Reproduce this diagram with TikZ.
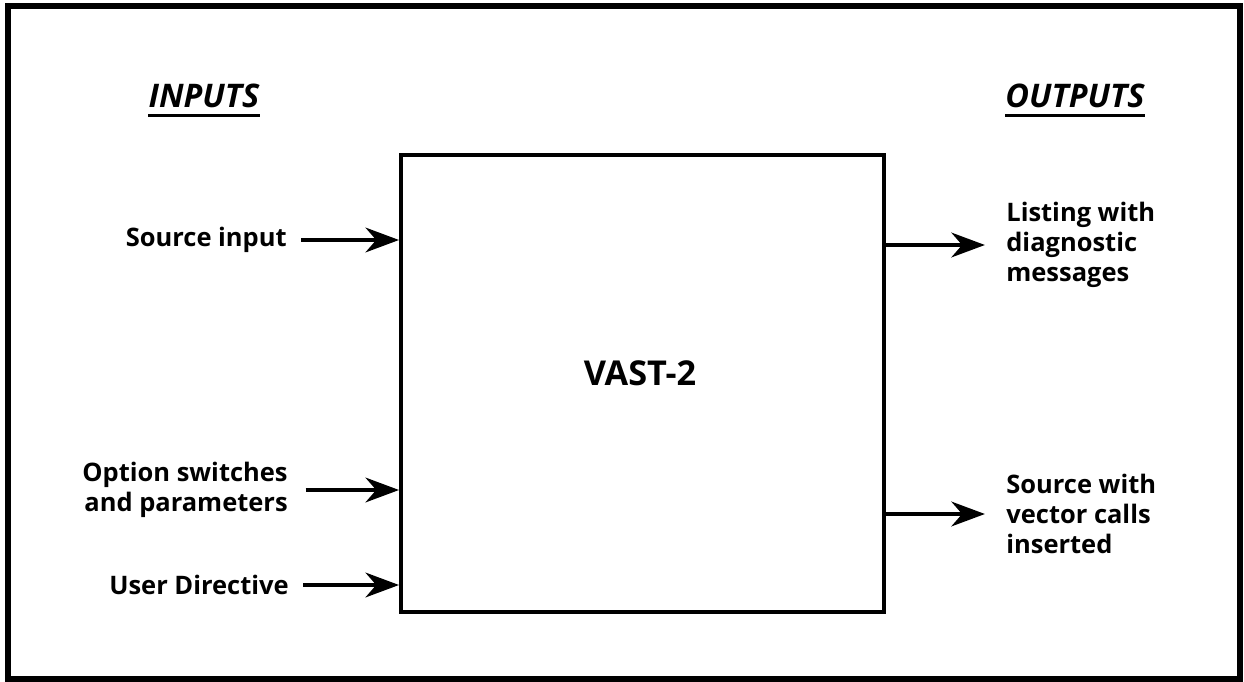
\documentclass[tikz,border=0pt]{standalone}
\usepackage{fontspec}
\setmainfont{Open Sans}
\usetikzlibrary{arrows.meta}
\tikzset{
  lbl/.style={font=\bfseries\fontsize{14.5}{17}\selectfont, inner sep=0pt},
  head/.style={font=\bfseries\itshape\fontsize{18.5}{20}\selectfont, inner sep=0pt},
  arr/.style={line width=2.6pt, -{Stealth[length=19pt,width=14pt,inset=6pt]}}
}
\begin{document}
\begin{tikzpicture}[x=0.02cm,y=-0.02cm]
\useasboundingbox (0,0) rectangle (1244,682);
\draw[line width=3pt] (8,6) rectangle (1240,679);
% the program box
\node[draw, line width=2.3pt, minimum width=9.66cm, minimum height=9.14cm] (vast) at (642.5,383.5) {};
\node[lbl, font=\bfseries\fontsize{19.5}{20}\selectfont] (name) at (640,373) {VAST-2};
% headings
\node[head] (in) at (204,96) {INPUTS};
\node[head] (out) at (1075,96) {OUTPUTS};
\draw[line width=1.7pt] ([yshift=-4pt]in.south west) -- ([yshift=-4pt]in.south east);
\draw[line width=1.7pt] ([yshift=-4pt]out.south west) -- ([yshift=-4pt]out.south east);
% inputs
\node[lbl, anchor=east] (src) at (287,240) {Source input};
\node[lbl, anchor=east, align=right] (opt) at (288,490) {Option switches\\and parameters};
\node[lbl, anchor=east] (usr) at (289,585) {User Directive};
% outputs
\node[lbl, anchor=west, align=left] (lst) at (1006,245) {Listing with\\diagnostic\\messages};
\node[lbl, anchor=west, align=left] (swv) at (1006,514) {Source with\\vector calls\\inserted};
\draw[arr, shorten <=8pt] (src.east) -- (src.east -| vast.west);
\draw[arr, shorten <=10pt] (opt.east) -- (opt.east -| vast.west);
\draw[arr, shorten <=8pt] (usr.east) -- (usr.east -| vast.west);
\draw[arr, shorten >=12pt] (lst.west -| vast.east) -- (lst.west);
\draw[arr, shorten >=12pt] (swv.west -| vast.east) -- (swv.west);
\end{tikzpicture}
\end{document}
